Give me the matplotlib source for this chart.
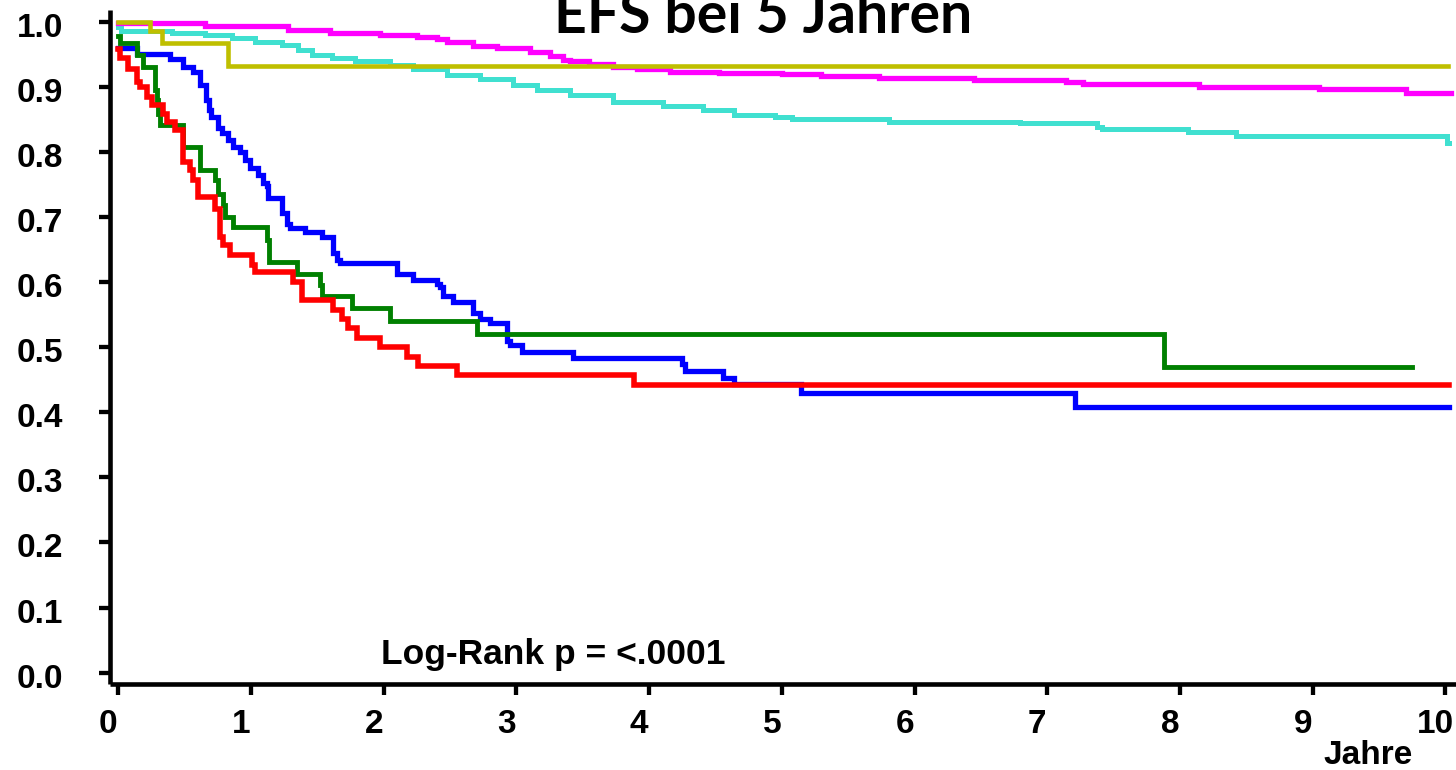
import matplotlib
matplotlib.use("Agg")
import matplotlib.pyplot as plt
from matplotlib.transforms import ScaledTranslation

# Kaplan-Meier curves: time in years, EFS
t_yellow = [0, 0.239, 0.327, 0.829, 10.02]
s_yellow = [1.000, 0.985, 0.967, 0.932, 0.932]

t_magenta = [0, 0.652, 1.279, 1.595, 1.972, 2.25, 2.40, 2.476, 2.674, 2.855, 3.103, 3.25,
             3.352, 3.405, 3.55, 3.729, 3.91, 4.158, 4.528, 5.003, 5.297, 5.734, 6.45,
             7.144, 7.272, 8.147, 9.044, 9.70, 10.04]
s_magenta = [0.998, 0.993, 0.987, 0.982, 0.980, 0.977, 0.973, 0.969, 0.963, 0.959, 0.953, 0.947,
             0.941, 0.939, 0.935, 0.931, 0.927, 0.923, 0.921, 0.919, 0.917, 0.914, 0.910,
             0.907, 0.905, 0.900, 0.896, 0.891, 0.891]

t_cyan = [0, 0.02, 0.405, 0.652, 0.857, 1.03, 1.234, 1.354, 1.46, 1.611, 1.783, 2.048, 2.221,
          2.476, 2.726, 2.975, 3.155, 3.404, 3.729, 4.106, 4.408, 4.641, 4.95, 5.078, 5.81,
          6.797, 7.378, 7.416, 8.057, 8.425, 10.01, 10.03]
s_cyan = [0.992, 0.985, 0.983, 0.980, 0.975, 0.969, 0.964, 0.957, 0.949, 0.944, 0.940, 0.933, 0.927,
          0.918, 0.912, 0.903, 0.895, 0.887, 0.877, 0.871, 0.864, 0.857, 0.853, 0.851, 0.846,
          0.844, 0.839, 0.835, 0.830, 0.824, 0.813, 0.813]

t_blue = [0, 0.139, 0.39, 0.49, 0.565, 0.616, 0.66, 0.68, 0.70, 0.751, 0.78, 0.827, 0.865,
          0.917, 0.955, 0.993, 1.053, 1.091, 1.121, 1.128, 1.234, 1.272, 1.294, 1.407, 1.535,
          1.618, 1.648, 1.671, 2.098, 2.221, 2.402, 2.425, 2.447, 2.523, 2.674, 2.726, 2.802,
          2.93, 2.951, 3.043, 3.427, 4.249, 4.272, 4.558, 4.641, 5.146, 7.211, 10.03]
s_blue = [0.959, 0.951, 0.942, 0.931, 0.923, 0.903, 0.880, 0.865, 0.854, 0.836, 0.829, 0.818, 0.808,
          0.800, 0.787, 0.775, 0.764, 0.752, 0.747, 0.729, 0.706, 0.690, 0.683, 0.677, 0.670,
          0.644, 0.634, 0.629, 0.613, 0.603, 0.597, 0.593, 0.578, 0.570, 0.552, 0.544, 0.537,
          0.510, 0.503, 0.493, 0.483, 0.474, 0.464, 0.453, 0.443, 0.430, 0.408, 0.408]

t_green = [0, 0.01, 0.139, 0.188, 0.277, 0.29, 0.30, 0.315, 0.49, 0.616, 0.729, 0.751, 0.789,
           0.804, 0.865, 1.121, 1.135, 1.345, 1.52, 1.535, 1.759, 2.048, 2.701, 7.882, 9.751]
s_green = [0.978, 0.967, 0.949, 0.931, 0.895, 0.880, 0.859, 0.841, 0.808, 0.772, 0.757, 0.736, 0.718,
           0.700, 0.685, 0.665, 0.631, 0.613, 0.596, 0.578, 0.560, 0.540, 0.521, 0.469, 0.469]

t_red = [0, 0.01, 0.075, 0.139, 0.164, 0.214, 0.252, 0.339, 0.365, 0.427, 0.49, 0.54, 0.565,
         0.601, 0.729, 0.767, 0.79, 0.842, 1.004, 1.03, 1.319, 1.382, 1.618, 1.684, 1.734,
         1.797, 1.973, 2.172, 2.261, 2.551, 3.887, 10.03]
s_red = [0.958, 0.944, 0.928, 0.908, 0.900, 0.885, 0.872, 0.859, 0.846, 0.834, 0.785, 0.772, 0.757,
         0.731, 0.713, 0.670, 0.657, 0.642, 0.626, 0.616, 0.600, 0.573, 0.557, 0.544, 0.529,
         0.514, 0.501, 0.485, 0.471, 0.457, 0.442, 0.442]

x_ticks = list(range(11))
y_ticks = [i / 10 for i in range(11)]

plt.rcParams['font.family'] = ['Liberation Sans', 'DejaVu Sans']
plt.rcParams['font.weight'] = 'bold'

fig = plt.figure(figsize=(14.56, 7.70), dpi=100)
ax = fig.add_axes([110 / 1456, 86 / 770, 1346 / 1456, 674 / 770])

curves = [
    (t_cyan, s_cyan, '#40E0D0', 3.6),
    (t_magenta, s_magenta, '#FF00FF', 3.8),
    (t_yellow, s_yellow, '#BFBF00', 3.3),
    (t_blue, s_blue, '#0000FF', 3.8),
    (t_green, s_green, '#008000', 3.5),
    (t_red, s_red, '#FF0000', 4.0),
]
for t, s, col, lw in curves:
    ax.step(t, s, where='post', color=col, linewidth=lw, solid_joinstyle='miter')

ax.set_xlim(-0.063, 10.08)
ax.set_ylim(-0.0174, 1.018)
ax.set_xticks(x_ticks)
ax.set_xticklabels([str(v) for v in x_ticks])
ax.set_yticks(y_ticks)
ax.set_yticklabels([f'{v:.1f}' for v in y_ticks])

for side in ['top', 'right']:
    ax.spines[side].set_visible(False)
for side in ['left', 'bottom']:
    ax.spines[side].set_linewidth(3.3)
    ax.spines[side].set_capstyle('butt')

ax.tick_params(axis='both', direction='out', length=8, width=3.1, labelsize=24)
ax.tick_params(axis='y', pad=26)
ax.tick_params(axis='x', pad=10)

# labels in the source sit a little left of their ticks
shift = ScaledTranslation(-0.10, 0, fig.dpi_scale_trans)
for lab in ax.get_xticklabels():
    lab.set_transform(lab.get_transform() + shift)
    lab.set_fontweight('bold')
shift_y = ScaledTranslation(0, -0.03, fig.dpi_scale_trans)
for lab in ax.get_yticklabels():
    lab.set_transform(lab.get_transform() + shift_y)
    lab.set_fontweight('bold')

fig.text(1413 / 1456, 1 - 764 / 770, 'Jahre', ha='right', va='baseline',
         fontsize=24, fontweight='bold')
fig.text(381 / 1456, 1 - 664 / 770, 'Log-Rank p = <.0001', ha='left', va='baseline',
         fontsize=25.5, fontweight='bold')

title = fig.text(554 / 1456, 1 - 33 / 770, 'EFS bei 5 Jahren', ha='left', va='baseline',
                 fontsize=45, fontweight='bold', family=['Lato', 'DejaVu Sans'])
# fit the title to the width it has in the source (about 418 px)
r = fig.canvas.get_renderer()
w = title.get_window_extent(r).width
title.set_fontsize(45 * 418 / w)

fig.savefig('out.png', dpi=100)
